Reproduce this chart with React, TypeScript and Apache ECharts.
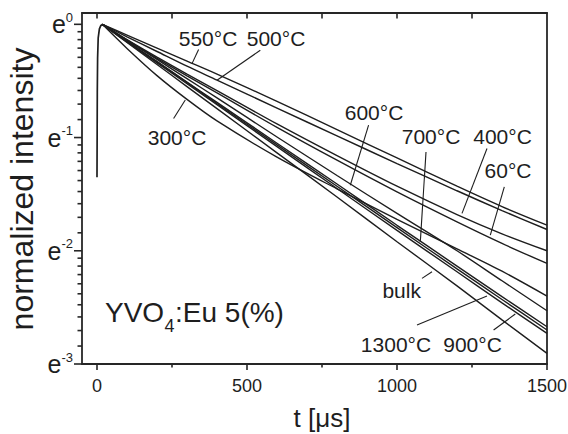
import React, { useEffect, useRef } from 'react';
import * as echarts from 'echarts';

// ---------- data (ln of normalized intensity vs time in µs) ----------
const riseTimes = [0, 1, 2, 4, 8, 13, 18];
const riseValues = [-1.35, -0.6, -0.3, -0.12, -0.04, -0.01, 0];

const decayTimes = [18, 100, 200, 300, 400, 600, 800, 1000, 1200, 1350, 1500];
const v550 = [0, -0.095, -0.21, -0.325, -0.44, -0.68, -0.93, -1.18, -1.43, -1.61, -1.774];
const v500 = [0, -0.11, -0.24, -0.37, -0.493, -0.74, -0.985, -1.23, -1.47, -1.645, -1.812];
const v400 = [0, -0.135, -0.29, -0.44, -0.585, -0.88, -1.16, -1.43, -1.68, -1.85, -2.0];
const v60 = [0, -0.14, -0.3, -0.455, -0.605, -0.91, -1.2, -1.48, -1.745, -1.935, -2.112];
const v300 = [0, -0.213, -0.453, -0.663, -0.853, -1.173, -1.453, -1.723, -1.983, -2.18, -2.4];
const v600 = [0, -0.14, -0.31, -0.48, -0.65, -0.995, -1.335, -1.67, -2.0, -2.265, -2.53];
const v700 = [0, -0.15, -0.33, -0.51, -0.69, -1.05, -1.41, -1.775, -2.135, -2.405, -2.671];
const v1300 = [0, -0.15, -0.33, -0.515, -0.7, -1.065, -1.43, -1.795, -2.16, -2.43, -2.7];
const v900 = [0, -0.155, -0.34, -0.525, -0.71, -1.08, -1.45, -1.82, -2.185, -2.46, -2.729];
const vBulk = [0, -0.16, -0.355, -0.55, -0.745, -1.135, -1.525, -1.92, -2.31, -2.61, -2.906];

const curveNames = ['550°C', '500°C', '400°C', '60°C', '300°C', '600°C', '700°C', '1300°C', '900°C', 'bulk'];
const curveValues = [v550, v500, v400, v60, v300, v600, v700, v1300, v900, vBulk];

// axis ticks
const X_MIN = -50;
const X_MAX = 1500;
const Y_MIN = -3;
const Y_MAX = 0.1;
const xMajorTicks = [0, 500, 1000, 1500];
const xMinorTicks = [250, 750, 1250];
const xTopTicks = [0, 250, 500, 750, 1000, 1250];
const yMajorTicks = [-3, -2, -1, 0];

// annotation leader lines (data coords) and label positions
const leaderFrom = [[338.7, -0.223], [544.3, -0.229], [255.3, -0.832], [905.3, -0.891], [1096.7, -1.127], [1300, -1.097], [1357.7, -1.436], [1083.3, -2.244], [1066.7, -2.656], [1322, -2.7]];
const leaderTo = [[316.7, -0.347], [400, -0.494], [294.3, -0.668], [844.3, -1.421], [1077.7, -1.921], [1216.7, -1.67], [1311, -1.862], [1116.7, -2.186], [1300, -2.40], [1394.3, -2.559]];
const labelTexts = ['550°C', '500°C', '300°C', '600°C', '700°C', '400°C', '60°C', 'bulk', '1300°C', '900°C'];
const labelPos = [[208, 38], [276, 38], [177, 137], [374, 112.5], [431, 136], [502.5, 136], [508, 170], [401.7, 290], [396, 344], [472.5, 344]];

const FONT = '"Liberation Sans", Arial, Helvetica, sans-serif';
const INK = '#1e1e1e';
const AXIS = '#262626';

export default function App() {
  const ref = useRef<HTMLDivElement>(null);
  useEffect(() => {
    if (!ref.current) return;
    const chart = echarts.init(ref.current, null, { renderer: 'svg' });

    const yMinorTicks: number[] = [];
    for (let i = 0; i < yMajorTicks.length - 1; i++) {
      const lo = Math.exp(yMajorTicks[i]);
      const hi = Math.exp(yMajorTicks[i + 1]);
      for (let k = 1; k < 10; k++) yMinorTicks.push(Math.log(lo + (k * (hi - lo)) / 10));
    }

    const lineSeries = curveValues.map((vals, i) => ({
      name: curveNames[i],
      type: 'line',
      data: decayTimes.map((t, j) => [t, vals[j]]),
      showSymbol: false,
      smooth: 0.3,
      lineStyle: { color: INK, width: 1.4 },
      silent: true,
      z: 3,
    }));

    const axisBase = (pos: string) => ({
      position: pos,
      axisLine: { show: true, onZero: false, lineStyle: { color: AXIS, width: 1.8 } },
      axisTick: { show: false },
      splitLine: { show: false },
    });

    const option: any = {
      animation: false,
      backgroundColor: '#ffffff',
      grid: { left: 82, right: 21, top: 13, bottom: 70, outerBoundsMode: 'none', containLabel: false },
      xAxis: [
        {
          type: 'value', min: X_MIN, max: X_MAX, ...axisBase('bottom'),
          axisLabel: {
            customValues: xMajorTicks, margin: 13, fontSize: 18, color: INK, fontFamily: FONT,
            formatter: (v: number) => (xMajorTicks.indexOf(v) >= 0 ? String(v) : ''),
          },
        },
        { type: 'value', min: X_MIN, max: X_MAX, ...axisBase('top'), axisLabel: { show: false } },
      ],
      yAxis: [
        {
          type: 'value', min: Y_MIN, max: Y_MAX, ...axisBase('left'),
          axisLabel: {
            customValues: yMajorTicks, margin: 9,
            formatter: (v: number) => (yMajorTicks.indexOf(v) >= 0 ? `{e|e}{s|${v}}` : ''),
            rich: {
              e: { fontSize: 25, lineHeight: 27, fontFamily: FONT, color: INK },
              s: { fontSize: 13, lineHeight: 13, verticalAlign: 'top', fontFamily: FONT, color: INK },
            },
          },
        },
        { type: 'value', min: Y_MIN, max: Y_MAX, ...axisBase('right'), axisLabel: { show: false } },
      ],
      series: [
        {
          name: 'rise', type: 'line',
          data: riseTimes.map((t, j) => [t, riseValues[j]]),
          showSymbol: false, lineStyle: { color: INK, width: 1.7 }, silent: true, z: 3,
        },
        ...lineSeries,
      ],
    };
    chart.setOption(option);

    const px = (p: number[]) => chart.convertToPixel({ gridIndex: 0 } as any, p) as number[];
    const graphics: any[] = [];
    const tickStyle = { stroke: AXIS, lineWidth: 1.6 };
    const seg = (x1: number, y1: number, x2: number, y2: number, style: any) =>
      graphics.push({ type: 'line', silent: true, z: 10, shape: { x1, y1, x2, y2 }, style });

    // ticks placed through the axis scales
    xMajorTicks.forEach((v) => { const p = px([v, Y_MIN]); seg(p[0], p[1], p[0], p[1] + 6, tickStyle); });
    xMinorTicks.forEach((v) => { const p = px([v, Y_MIN]); seg(p[0], p[1], p[0], p[1] + 3.5, tickStyle); });
    xTopTicks.forEach((v) => { const p = px([v, Y_MAX]); seg(p[0], p[1], p[0], p[1] + 5.5, tickStyle); });
    yMajorTicks.forEach((v) => { const p = px([X_MIN, v]); seg(p[0] - 8, p[1], p[0], p[1], tickStyle); });
    yMinorTicks.forEach((v) => { const p = px([X_MIN, v]); seg(p[0] - 4.5, p[1], p[0], p[1], tickStyle); });

    leaderFrom.forEach((f, i) => {
      const a = px(f);
      const b = px(leaderTo[i]);
      seg(a[0], a[1], b[0], b[1], { stroke: INK, lineWidth: 1.1 });
    });
    labelTexts.forEach((t, i) => {
      graphics.push({
        type: 'text', x: labelPos[i][0], y: labelPos[i][1], z: 10, silent: true,
        style: { text: t, fontSize: 21, fontFamily: FONT, fill: INK, align: 'center', verticalAlign: 'middle' },
      });
    });
    // sample title inside plot
    graphics.push({ type: 'text', x: 105, y: 312, z: 10, style: { text: 'YVO', fontSize: 28, fontFamily: FONT, fill: INK, align: 'left', verticalAlign: 'middle' } });
    graphics.push({ type: 'text', x: 164.5, y: 325.5, z: 10, style: { text: '4', fontSize: 18, fontFamily: FONT, fill: INK, align: 'left', verticalAlign: 'middle' } });
    graphics.push({ type: 'text', x: 175, y: 312, z: 10, style: { text: ':Eu 5(%)', fontSize: 28, fontFamily: FONT, fill: INK, align: 'left', verticalAlign: 'middle' } });
    // axis titles
    graphics.push({ type: 'text', x: 22, y: 189, rotation: Math.PI / 2, z: 10, style: { text: 'normalized intensity', fontSize: 32, fontFamily: FONT, fill: INK, align: 'center', verticalAlign: 'middle' } });
    graphics.push({ type: 'text', x: 322, y: 418, z: 10, style: { text: 't [μs]', fontSize: 26, fontFamily: FONT, fill: INK, align: 'center', verticalAlign: 'middle' } });

    chart.setOption({ graphic: graphics });

    return () => chart.dispose();
  }, []);

  return <div ref={ref} style={{ position: 'absolute', left: 0, top: 0, width: 568, height: 434 }} />;
}
